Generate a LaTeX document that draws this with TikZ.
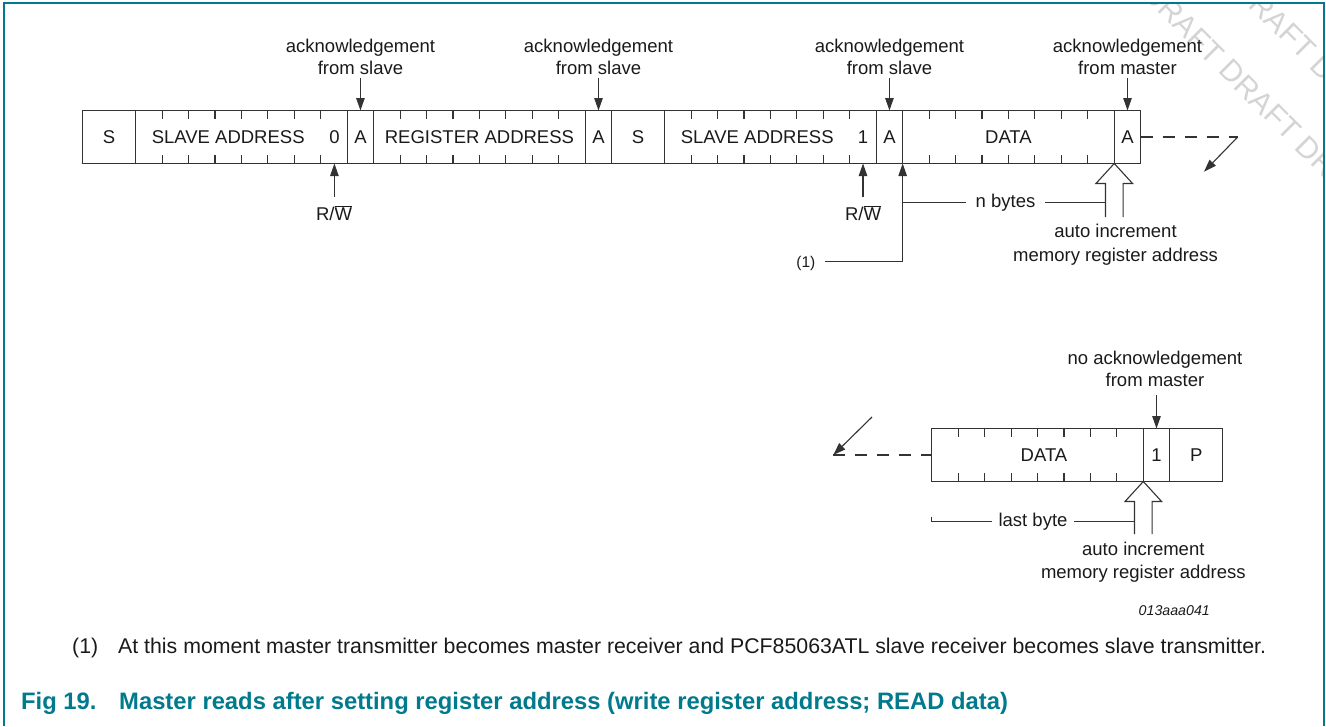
\documentclass[tikz,border=0pt]{standalone}
\usepackage{fontspec}
\setmainfont{Liberation Sans}
\usetikzlibrary{arrows.meta,calc}
\definecolor{ink}{HTML}{1A1A1A}
\definecolor{rule}{HTML}{333333}
\definecolor{nxpteal}{HTML}{007A8C}
\definecolor{wmgray}{HTML}{D4D4D4}

\begin{document}
\begin{tikzpicture}[x=1pt,y=-1pt,
  field/.style={draw=rule, line width=1.1pt, minimum height=53pt, inner sep=0pt, outer sep=0pt,
                font=\fontsize{18.5}{22}\selectfont, text=ink},
  lbl/.style={font=\fontsize{18.5}{22}\selectfont, text=ink, inner sep=0pt},
  small/.style={font=\fontsize{15.5}{18}\selectfont, text=ink, inner sep=0pt},
  tick/.style={draw=rule, line width=1.1pt},
  plain/.style={draw=rule, line width=1.1pt},
  arr/.style={draw=rule, line width=1.1pt, -{Triangle[length=12.5pt,width=8.5pt]}},
  hollow/.style={draw=rule, line width=1.1pt, line join=miter},
  cont/.style={draw=rule, line width=1.1pt, dash pattern=on 12pt off 10pt},
  wm/.style={font=\fontsize{30}{36}\selectfont, text=wmgray, inner sep=0pt},
  foot/.style={font=\fontsize{21.3}{25}\selectfont, text=ink, inner sep=0pt, anchor=base west},
  captext/.style={font=\fontsize{23.8}{28}\selectfont\bfseries, text=nxpteal, inner sep=0pt, anchor=base west},
]
\useasboundingbox (0,0) rectangle (1326,726);

% watermark, kept inside the frame
\begin{scope}
  \clip (5.3,4.3) rectangle (1322.5,726);
  \node[wm, rotate=-45] (wm1) at (1260,100) {DRAFT DRAFT DRAFT};
  \node[wm, rotate=-45] (wm2) at (1275,19) {DRAFT DRAFT DRAFT};
\end{scope}

% frame
\draw[nxpteal, line width=2pt] (4.3,726) -- (4.3,3.3) -- (1323.5,3.3) -- (1323.5,726);

% ---------------- first frame sequence ----------------
\node[field, minimum width=52.9pt]  (s1)  at (109.15,137) {S};
\node[field, minimum width=211.6pt] (sa1) at (241.4,137)  {};
\node[field, minimum width=26.45pt] (a1)  at (360.45,137) {A};
\node[field, minimum width=211.6pt] (ra)  at (479.45,137) {};
\node[field, minimum width=26.45pt] (a2)  at (598.5,137)  {A};
\node[field, minimum width=52.9pt]  (s2)  at (638.15,137) {S};
\node[field, minimum width=211.6pt] (sa2) at (770.4,137)  {};
\node[field, minimum width=26.45pt] (a3)  at (889.45,137) {A};
\node[field, minimum width=211.6pt] (d1)  at (1008.45,137) {};
\node[field, minimum width=26.45pt] (a4)  at (1127.5,137) {A};

% bit ticks of the byte fields
\foreach \b in {sa1,ra,sa2,d1}{
  \foreach \k in {1,...,7}{
    \draw[tick] (\b.north west) ++(\k*26.45,0) -- ++(0,8.7);
    \draw[tick] (\b.south west) ++(\k*26.45,0) -- ++(0,-8.7);
  }
}

% byte contents
\node[lbl] (sa1t) at (228.2,137)  {SLAVE ADDRESS};
\node[lbl] (sa1b) at (334.4,137)  {0};
\node[lbl] (rat)  at (479.45,137) {REGISTER ADDRESS};
\node[lbl] (sa2t) at (757.2,137)  {SLAVE ADDRESS};
\node[lbl] (sa2b) at (863,137)    {1};
\node[lbl] (d1t)  at (1008.45,137) {DATA};

% acknowledgements
\node[lbl, anchor=base] (ack1a) at (360.45,52) {acknowledgement};
\node[lbl, anchor=base] (ack1b) at (360.45,74) {from slave};
\coordinate (ack1) at (360.45,78);
\draw[arr] (ack1) -- (a1.north);

\node[lbl, anchor=base] (ack2a) at (598.5,52) {acknowledgement};
\node[lbl, anchor=base] (ack2b) at (598.5,74) {from slave};
\coordinate (ack2) at (598.5,78);
\draw[arr] (ack2) -- (a2.north);

\node[lbl, anchor=base] (ack3a) at (889.45,52) {acknowledgement};
\node[lbl, anchor=base] (ack3b) at (889.45,74) {from slave};
\coordinate (ack3) at (889.45,78);
\draw[arr] (ack3) -- (a3.north);

\node[lbl, anchor=base] (ack4a) at (1127.5,52) {acknowledgement};
\node[lbl, anchor=base] (ack4b) at (1127.5,74) {from master};
\coordinate (ack4) at (1127.5,78);
\draw[arr] (ack4) -- (a4.north);

% read/write bits
\coordinate (rw1) at (334.4,197);
\draw[arr] (rw1) -- (rw1 |- sa1.south);
\node[lbl, anchor=base] (rw1t) at (334,220) {R/$\overline{\mbox{W}}$};
\coordinate (rw2) at (863,197);
\draw[arr] (rw2) -- (rw2 |- sa2.south);
\node[lbl, anchor=base] (rw2t) at (863,220) {R/$\overline{\mbox{W}}$};

% note (1)
\node[small, inner xsep=9.5pt, anchor=base east] (n1) at (825,267) {(1)};
\coordinate (sw1) at (902.65,261.7);
\draw[arr] (n1.east |- sw1) -- (sw1) -- (d1.south west);

% auto increment, first sequence
\coordinate (inc1) at (d1.south east);
\coordinate (inc1L) at ($(inc1)+(-8.8,0)$);
\draw[hollow] ($(inc1)+(-8.8,53.5)$) -- ++(0,-33.5) -- ++(-9.5,0) -- (inc1)
              -- ++(18.3,20) -- ++(-9.5,0) -- ++(0,33.5);
\node[lbl, inner xsep=9.5pt] (nb) at (1005.5,202.7) {n bytes};
\draw[plain] (nb.west -| d1.west) -- (nb.west);
\draw[plain] (nb.east) -- (nb.east -| inc1L);
\node[lbl, anchor=base] (ai1a) at (1115.5,237) {auto increment};
\node[lbl, anchor=base] (ai1b) at (1115.5,261.3) {memory register address};

% continuation
\coordinate (cont1) at (1237.7,137);
\coordinate (cont1e) at (1204,171.7);
\draw[cont] (a4.east) -- (cont1);
\draw[arr] (cont1) -- (cont1e);

% ---------------- closing sequence ----------------
\node[field, minimum width=211.6pt] (d2)   at (1037.5,455) {};
\node[field, minimum width=26.45pt] (nack) at (1156.5,455) {1};
\node[field, minimum width=52.9pt]  (p)    at (1196.2,455) {P};
\foreach \k in {1,...,7}{
  \draw[tick] (d2.north west) ++(\k*26.45,0) -- ++(0,8.7);
  \draw[tick] (d2.south west) ++(\k*26.45,0) -- ++(0,-8.7);
}
\node[lbl] (d2t) at (1044,455) {DATA};

\node[lbl, anchor=base] (nacka) at (1155,364) {no acknowledgement};
\node[lbl, anchor=base] (nackb) at (1155,386.5) {from master};
\coordinate (nack0) at (1156.5,395);
\draw[arr] (nack0) -- (nack.north);

\coordinate (inc2) at (d2.south east);
\coordinate (inc2L) at ($(inc2)+(-8.8,0)$);
\draw[hollow] ($(inc2)+(-8.8,52.5)$) -- ++(0,-32.5) -- ++(-9.5,0) -- (inc2)
              -- ++(18.3,20) -- ++(-9.5,0) -- ++(0,32.5);
\coordinate (lbt) at (931.7,516.7);
\node[lbl, inner xsep=6.5pt] (lb) at (1033,521.7) {last byte};
\draw[plain] (lbt) -- (lbt |- lb) -- (lb.west);
\draw[plain] (lb.east) -- (lb.east -| inc2L);
\node[lbl, anchor=base] (ai2a) at (1143.3,555) {auto increment};
\node[lbl, anchor=base] (ai2b) at (1143.3,578.5) {memory register address};

\coordinate (cont2) at (833.3,455);
\coordinate (cont2s) at (872,417);
\draw[cont] (cont2) -- (d2.west);
\draw[arr] (cont2s) -- (cont2);

\node[font=\fontsize{14.2}{17}\selectfont\itshape, text=ink, inner sep=0pt, anchor=base east]
  (figid) at (1210,615) {013aaa041};

% footnote and caption
\node[foot] (fn1) at (72,653) {(1)};
\node[foot] (fn1t) at (118,653) {At this moment master transmitter becomes master receiver and PCF85063ATL slave receiver becomes slave transmitter.};
\node[captext] (capn) at (21,709) {Fig 19.};
\node[captext] (capt) at (119,709) {Master reads after setting register address (write register address; READ data)};

\end{tikzpicture}
\end{document}
